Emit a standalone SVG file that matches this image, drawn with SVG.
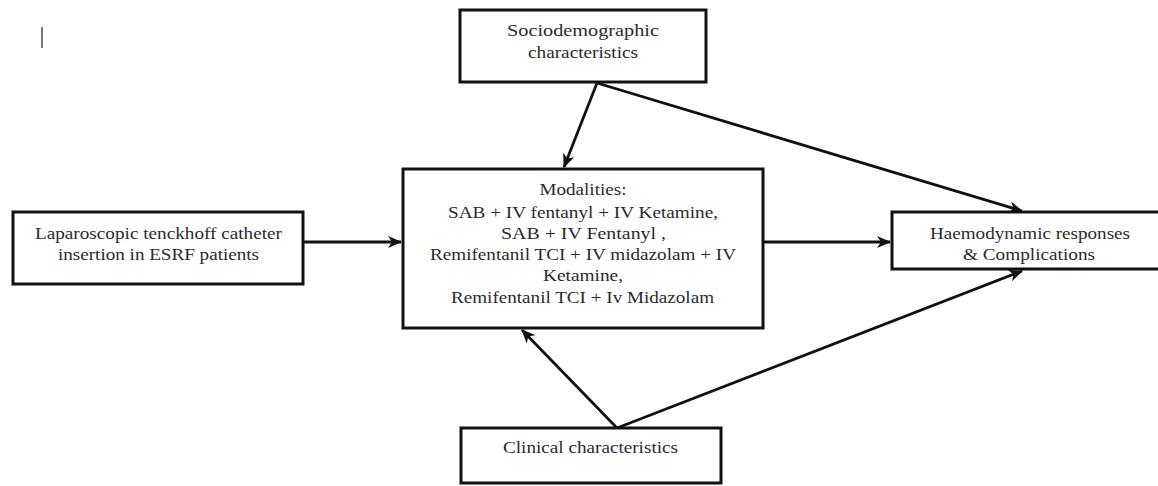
<svg xmlns="http://www.w3.org/2000/svg" width="1158" height="486" viewBox="0 0 1158 486">
<defs>
<style>
.box{fill:#fff;stroke:#111;stroke-width:3}
.t{font-family:"Liberation Serif","Times New Roman",serif;font-size:17px;fill:#2b2b2b;text-anchor:middle}
.c{stroke:#111;stroke-width:2.8;fill:none;marker-end:url(#ah)}
</style>
<marker id="ah" viewBox="0 0 14 12" refX="13" refY="6" markerWidth="14" markerHeight="12" markerUnits="userSpaceOnUse" orient="auto">
<path d="M0,0 L14,6 L0,12 L4,6 Z" fill="#111"/>
</marker>
</defs>
<rect width="1158" height="486" fill="#fff"/>
<line x1="42" y1="27" x2="42" y2="48" stroke="#777" stroke-width="2"/>
<g id="connectors">
<line class="c" x1="597" y1="83" x2="564" y2="167"/>
<line class="c" x1="597" y1="83" x2="1022" y2="211"/>
<line class="c" x1="304" y1="242" x2="401" y2="242"/>
<line class="c" x1="764" y1="242" x2="890" y2="242"/>
<line class="c" x1="617" y1="428" x2="522" y2="330"/>
<line class="c" x1="617" y1="428" x2="1022" y2="271"/>
</g>
<g id="socio">
<rect class="box" x="460" y="10" width="246" height="72"/>
<text class="t" x="583" y="36" textLength="152" lengthAdjust="spacingAndGlyphs">Sociodemographic</text>
<text class="t" x="583" y="58" textLength="110" lengthAdjust="spacingAndGlyphs">characteristics</text>
</g>
<g id="modalities">
<rect class="box" x="403" y="169" width="360" height="159"/>
<text class="t" x="583" y="195" textLength="87" lengthAdjust="spacingAndGlyphs">Modalities:</text>
<text class="t" x="583" y="218" textLength="270" lengthAdjust="spacingAndGlyphs">SAB + IV fentanyl + IV Ketamine,</text>
<text class="t" x="583.5" y="239" textLength="165" lengthAdjust="spacingAndGlyphs">SAB + IV Fentanyl  ,</text>
<text class="t" x="583" y="260" textLength="306" lengthAdjust="spacingAndGlyphs">Remifentanil TCI + IV midazolam + IV</text>
<text class="t" x="583" y="281" textLength="80" lengthAdjust="spacingAndGlyphs">Ketamine,</text>
<text class="t" x="582.5" y="303" textLength="263" lengthAdjust="spacingAndGlyphs">Remifentanil TCI + Iv Midazolam</text>
</g>
<g id="laparoscopic">
<rect class="box" x="13" y="212" width="290" height="72"/>
<text class="t" x="158.5" y="239" textLength="247" lengthAdjust="spacingAndGlyphs">Laparoscopic tenckhoff catheter</text>
<text class="t" x="158.5" y="260" textLength="201" lengthAdjust="spacingAndGlyphs">insertion in ESRF patients</text>
</g>
<g id="haemodynamic">
<rect class="box" x="892" y="212" width="280" height="57"/>
<text class="t" x="1030" y="239" textLength="200" lengthAdjust="spacingAndGlyphs">Haemodynamic responses</text>
<text class="t" x="1029" y="260" textLength="132" lengthAdjust="spacingAndGlyphs">&amp; Complications</text>
</g>
<g id="clinical">
<rect class="box" x="461" y="428" width="260" height="55"/>
<text class="t" x="590.5" y="453" textLength="175" lengthAdjust="spacingAndGlyphs">Clinical characteristics</text>
</g>
</svg>
